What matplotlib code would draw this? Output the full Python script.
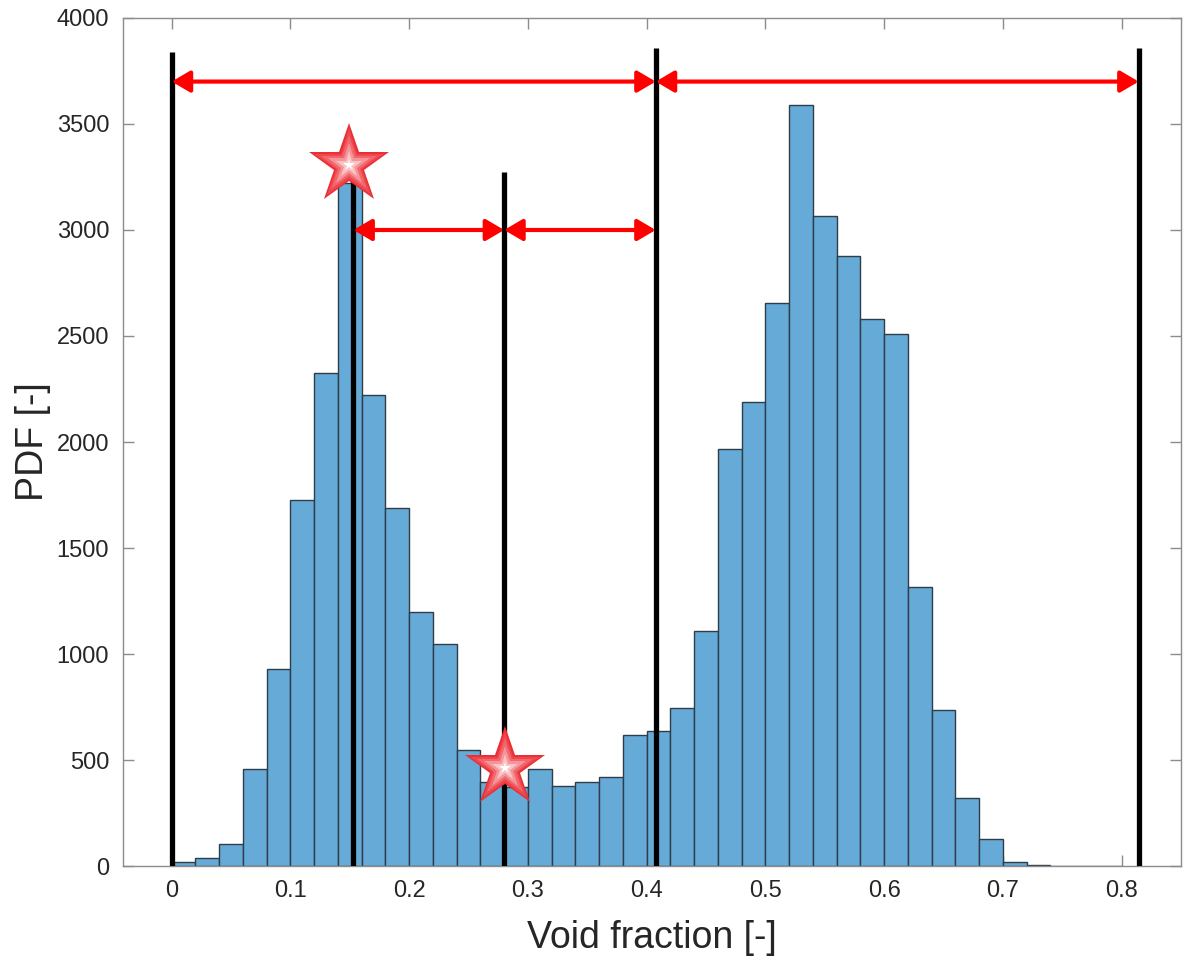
import numpy as np
import matplotlib
matplotlib.use("Agg")
import matplotlib.pyplot as plt
from matplotlib.patches import FancyArrowPatch

plt.rcParams['font.family'] = ['Liberation Sans', 'DejaVu Sans']

# histogram, bins of width 0.02 from 0 to 0.8
bin_edges = np.round(np.arange(0, 0.8001, 0.02), 3)
counts = [19, 38, 104, 458, 929, 1726, 2325, 3220, 2222, 1689,
          1198, 1047, 547, 396, 373, 458, 377, 396, 420, 618,
          637, 745, 1108, 1967, 2189, 2655, 3590, 3066, 2877, 2580,
          2509, 1316, 736, 321, 127, 19, 5, 2, 1, 1]

# black vertical markers
vline_x = [0.0, 0.153, 0.28, 0.4076, 0.8143]
vline_top = [3840, 3250, 3274, 3858, 3858]

# red double arrows: (x start, x end, y)
arrows = [(0.0, 0.4076, 3700), (0.4076, 0.8143, 3700),
          (0.153, 0.28, 3000), (0.28, 0.4076, 3000)]

# star markers
star_x = [0.149, 0.2804]
star_y = [3307, 462]

fig = plt.figure(figsize=(11.93, 9.56), dpi=100)
ax = fig.add_axes([0.1031, 0.0941, 0.8869, 0.8871])

ax.bar(bin_edges[:-1], counts, width=0.02, align='edge',
       color='#66aad7', edgecolor='#2e3d48', linewidth=1.0, zorder=2)

for x, top in zip(vline_x, vline_top):
    ax.plot([x, x], [0, top], color='black', linewidth=3.8,
            solid_capstyle='butt', zorder=3)

for x0, x1, y in arrows:
    arr = FancyArrowPatch((x0, y), (x1, y),
                          arrowstyle='<|-|>,head_length=0.85,head_width=0.5',
                          mutation_scale=13, color='red', linewidth=3,
                          shrinkA=0, shrinkB=0, zorder=4)
    ax.add_patch(arr)

# gradient-looking stars: stacked markers red -> white
shades = ['#ea2f37', '#ee474e', '#f2676d', '#f69598', '#fac4c6', '#ffffff']
sizes = [61, 53, 43, 32, 20, 9]
for c, s in zip(shades, sizes):
    ax.plot(star_x, star_y, linestyle='none', marker='*', markersize=s,
            color=c, markeredgewidth=0, zorder=5)

ax.set_xlim(-0.041, 0.85)
ax.set_ylim(0, 4000)
ax.set_xticks(np.arange(0, 0.81, 0.1))
ax.set_xticklabels(['0', '0.1', '0.2', '0.3', '0.4', '0.5', '0.6', '0.7', '0.8'])
ax.set_yticks(np.arange(0, 4001, 500))

ax.tick_params(direction='in', length=8, width=1, colors='#262626',
               labelsize=17, top=True, right=True, pad=10)
ax.tick_params(axis='both', color='#8c8c8c')
for sp in ax.spines.values():
    sp.set_color('#8c8c8c')
    sp.set_linewidth(1)

ax.set_xlabel('Void fraction [-]', fontsize=27, color='#262626', labelpad=13)
ax.set_ylabel('PDF [-]', fontsize=27, color='#262626', labelpad=4)

fig.savefig('out.png', dpi=100)
